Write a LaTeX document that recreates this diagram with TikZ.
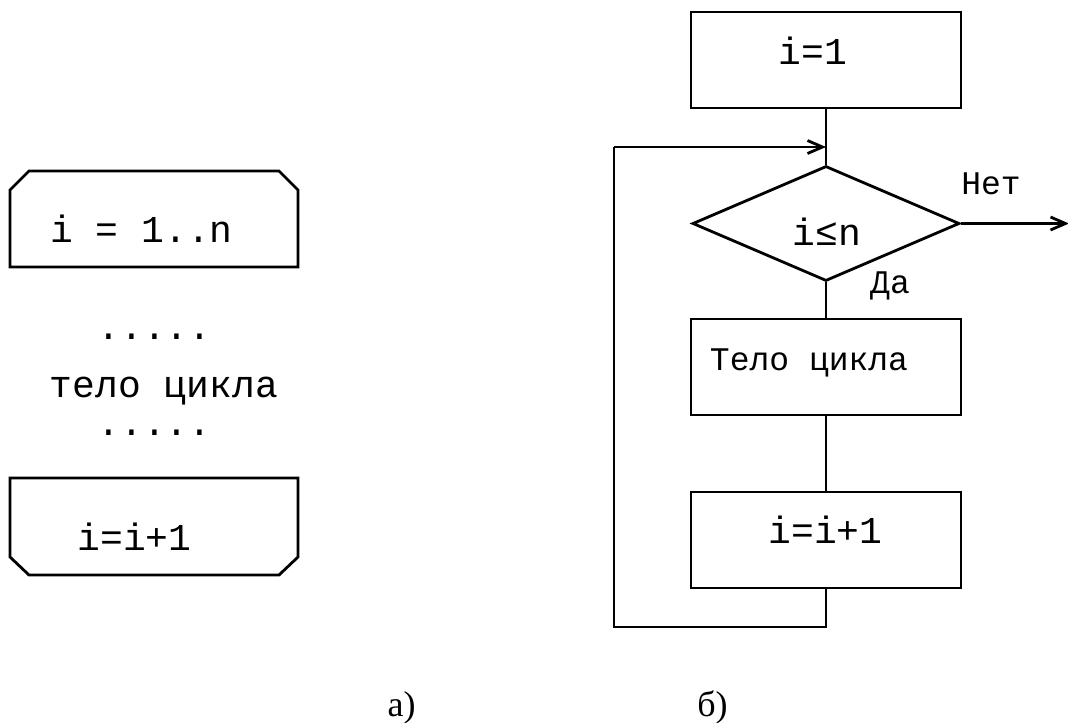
\documentclass[tikz,border=0pt]{standalone}
\usepackage{fontspec}
\setmainfont{Liberation Serif}
\setmonofont{Liberation Mono}
\usetikzlibrary{shapes.geometric,arrows.meta}
\tikzset{
  frame/.style={draw=black, line width=1.4pt, line join=miter},
  blk/.style={draw=black, line width=1.4pt, rectangle, minimum width=135pt, minimum height=48pt, inner sep=0pt},
  dia/.style={draw=black, line width=1.4pt, diamond, minimum width=133.5pt, minimum height=57.5pt, inner sep=0pt},
  code/.style={font=\ttfamily\fontsize{19}{22}\selectfont, inner sep=0pt, anchor=base},
  codes/.style={font=\ttfamily\fontsize{16.5}{19}\selectfont, inner sep=0pt, anchor=base},
  captxt/.style={font=\rmfamily\fontsize{18}{21}\selectfont, inner sep=0pt, anchor=base},
  conn/.style={draw=black, line width=1.4pt},
  arr/.style={conn, -{Straight Barb[length=7.5pt, width=6.5pt, line width=1.4pt]}},
}
\begin{document}
\begin{tikzpicture}[x=0.5pt, y=-0.5pt]
\useasboundingbox (0,0) rectangle (1068,722);

% ---- a) left part ----
\draw[frame] (10,267) -- (10,190) -- (29,171) -- (279,171) -- (298,190) -- (298,267) -- cycle;
\node[code] (tA1) at (141.5,242) {i = 1..n};

\node[code] (dots1) at (154.5,339) {.....};
\node[code] (body1) at (164,397) {тело цикла};
\node[code] (dots2) at (154.5,435) {.....};

\draw[frame] (10,478) -- (298,478) -- (298,557) -- (279,575) -- (29,575) -- (10,557) -- cycle;
\node[code] (tA2) at (134.5,550) {i=i+1};

\node[captxt] (capA) at (401.5,716) {а)};

% ---- b) right part ----
\node[blk] (init) at (826,60) {};
\node[code] at (813,65) {i=1};

\coordinate (join) at (826,147);

\node[dia] (cond) at (826,223.5) {};
\node[code] at (827,245) {i≤n};

\node[blk] (body) at (826,367) {};
\node[codes] at (809,370) {Тело цикла};

\node[blk] (inc) at (826,540) {};
\node[code] at (825.5,543) {i=i+1};

\coordinate (lb) at (826,627);
\coordinate (ll) at (614,627);
\coordinate (lt) at (614,147);
\coordinate (exit) at (1069,223.5);

\draw[conn] (init.south) -- (cond.north);
\draw[arr] (ll |- join) -- (join);
\draw[conn, line join=miter] (inc.south) -- (lb) -- (ll) -- (lt);
\draw[conn] (cond.south) -- (body.north);
\draw[conn] (body.south) -- (inc.north);
\draw[arr] (cond.east) -- (exit);

\node[codes] (yes) at (890,293) {Да};
\node[codes] (no) at (991,194) {Нет};

\node[captxt] (capB) at (712.5,716) {б)};
\end{tikzpicture}
\end{document}
